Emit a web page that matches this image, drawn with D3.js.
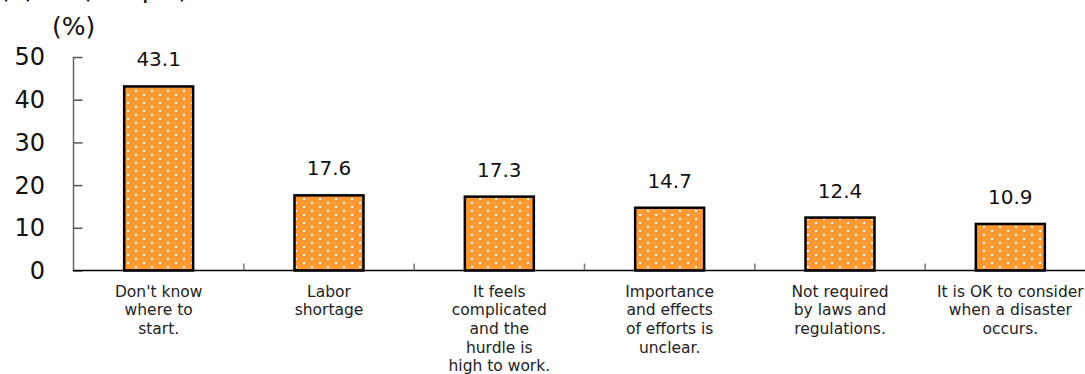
<!DOCTYPE html>
<html>
<head>
<meta charset="utf-8">
<script src="https://cdn.jsdelivr.net/npm/d3@7"></script>
<style>
  html, body { margin: 0; padding: 0; background: #fff; overflow: hidden; }
  svg { display: block; font-family: "DejaVu Sans", Verdana, sans-serif; }
</style>
</head>
<body>
<svg id="chart" width="1085" height="374"></svg>
<script>
const categories = [
  ["Don't know", "where to", "start."],
  ["Labor", "shortage"],
  ["It feels", "complicated", "and the", "hurdle is", "high to work."],
  ["Importance", "and effects", "of efforts is", "unclear."],
  ["Not required", "by laws and", "regulations."],
  ["It is OK to consider", "when a disaster", "occurs."]
];
const values = [43.1, 17.6, 17.3, 14.7, 12.4, 10.9];
const yTicks = [0, 10, 20, 30, 40, 50];
const unitLabel = "(%)";

const svg = d3.select("#chart");

// pattern: orange with white dots
const defs = svg.append("defs");
const pat = defs.append("pattern")
  .attr("id", "dots")
  .attr("patternUnits", "userSpaceOnUse")
  .attr("width", 16).attr("height", 8)
  .attr("x", 3).attr("y", 1);
pat.append("rect").attr("width", 16).attr("height", 8).attr("fill", "#FF9933");
pat.append("rect").attr("x", 4).attr("y", 1).attr("width", 2).attr("height", 2).attr("fill", "#fff");
pat.append("rect").attr("x", 12).attr("y", 5).attr("width", 2).attr("height", 2).attr("fill", "#fff");

const x = d3.scaleBand()
  .domain(d3.range(categories.length))
  .range([73.5, 1095.5])
  .paddingInner(0).paddingOuter(0);

const y = d3.scaleLinear().domain([0, 50]).range([270.5, 57]);

// cut-off header text at very top
svg.append("text").attr("x", 0).attr("y", -2).attr("font-size", 24).attr("fill", "#000").text("(n)");
svg.append("text").attr("x", 82).attr("y", -2).attr("font-size", 24).attr("fill", "#000").text("(sample)");

// unit label
svg.append("text")
  .attr("x", 52).attr("y", 35)
  .attr("font-size", 25)
  .attr("fill", "#111")
  .text(unitLabel);

// y axis
const yAxis = d3.axisRight(y).tickValues(yTicks).tickSize(9).tickFormat("");
const gy = svg.append("g").attr("transform", "translate(73.5,0)").call(yAxis);
gy.select(".domain").attr("stroke", "#666").attr("stroke-width", 1.5).attr("d", `M0,${y(50)}V${y(0)}`);
gy.selectAll(".tick line").attr("stroke", "#555").attr("stroke-width", 1.5);

// y tick labels
svg.append("g").selectAll("text")
  .data(yTicks)
  .join("text")
  .attr("x", 45)
  .attr("y", d => y(d))
  .attr("dy", "0.35em")
  .attr("text-anchor", "end")
  .attr("font-size", 24)
  .attr("fill", "#111")
  .text(d => d);

// category separator ticks
const sepTicks = d3.range(1, categories.length);
svg.append("g").selectAll("line")
  .data(sepTicks)
  .join("line")
  .attr("x1", d => x(d)).attr("x2", d => x(d))
  .attr("y1", y(0)).attr("y2", y(0) - 7)
  .attr("stroke", "#777").attr("stroke-width", 1.5);

// bars
const barW = x.bandwidth() * 0.405;
svg.append("g").selectAll("rect")
  .data(values)
  .join("rect")
  .attr("x", (d, i) => x(i) + x.bandwidth() / 2 - barW / 2)
  .attr("y", d => y(d))
  .attr("width", barW)
  .attr("height", d => y(0) - y(d))
  .attr("fill", "url(#dots)")
  .attr("stroke", "#000")
  .attr("stroke-width", 2.5);

// x axis baseline
svg.append("line")
  .attr("x1", 73).attr("x2", 1085)
  .attr("y1", y(0)).attr("y2", y(0))
  .attr("stroke", "#000").attr("stroke-width", 1.5);

// value labels
svg.append("g").selectAll("text")
  .data(values)
  .join("text")
  .attr("x", (d, i) => x(i) + x.bandwidth() / 2)
  .attr("y", d => y(d) - 20)
  .attr("text-anchor", "middle")
  .attr("font-size", 20)
  .attr("fill", "#111")
  .text(d => d.toFixed(1));

// category labels
const catG = svg.append("g").selectAll("text")
  .data(categories)
  .join("text")
  .attr("x", (d, i) => x(i) + x.bandwidth() / 2)
  .attr("y", 296.5)
  .attr("text-anchor", "middle")
  .attr("font-size", 15.5)
  .attr("fill", "#222");
catG.selectAll("tspan")
  .data(d => d)
  .join("tspan")
  .attr("x", function() { return d3.select(this.parentNode).attr("x"); })
  .attr("dy", (d, i) => i === 0 ? 0 : 18.7)
  .text(d => d);
</script>
</body>
</html>
